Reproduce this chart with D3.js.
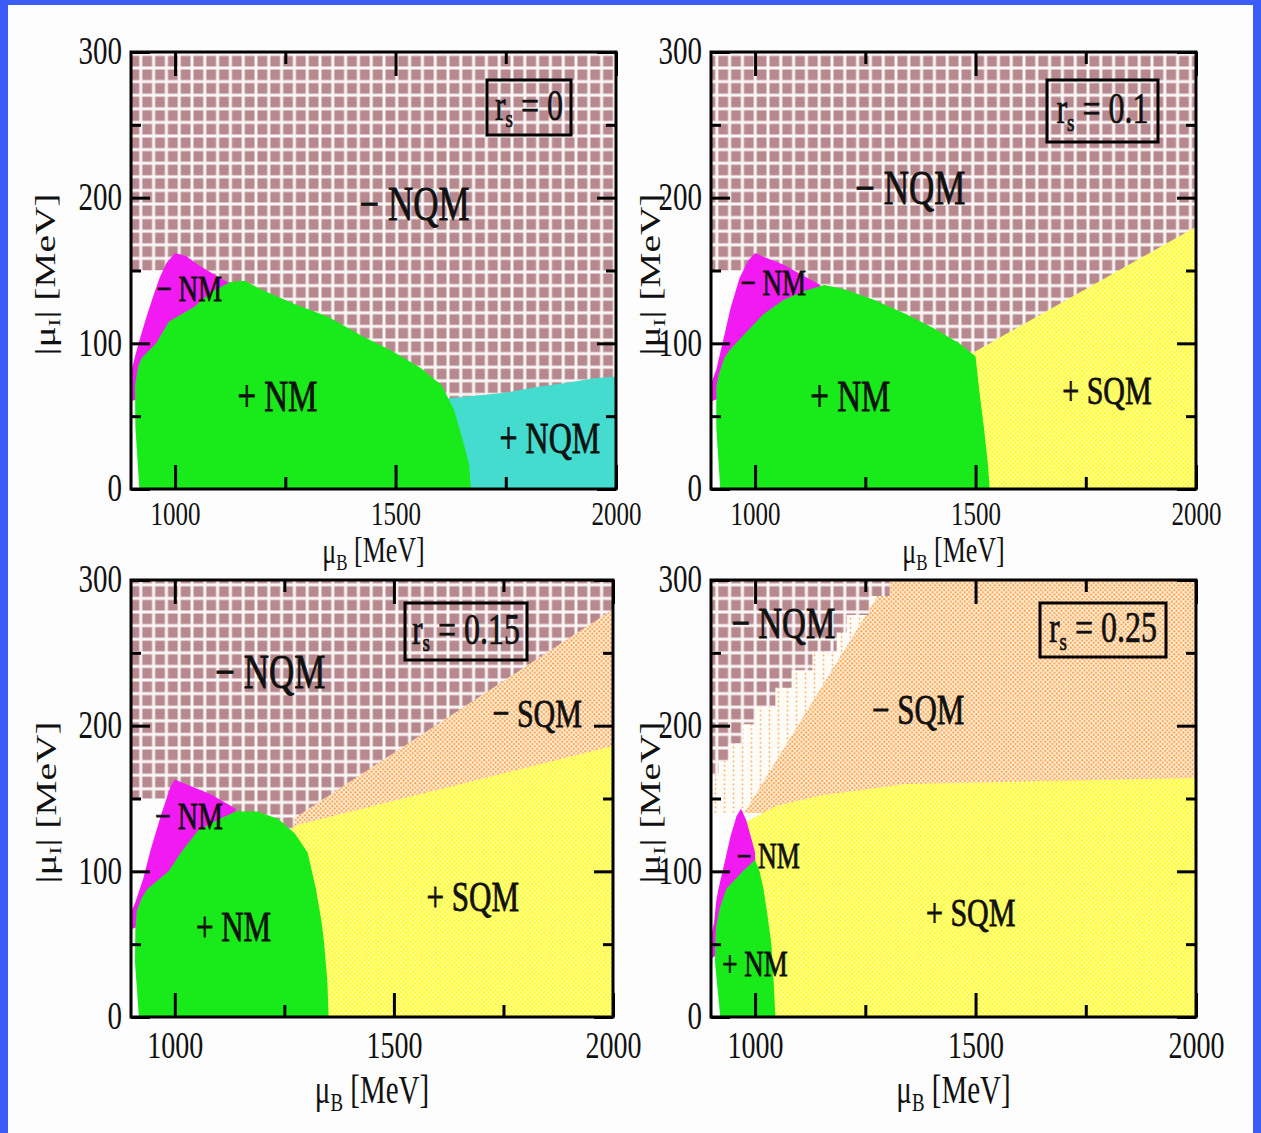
<!DOCTYPE html>
<html>
<head>
<meta charset="utf-8">
<script src="https://cdn.jsdelivr.net/npm/d3@7"></script>
<style>
body { margin: 0; background: #fdfdfd; }
svg { display: block; }
text { font-family: "Liberation Serif", "Times New Roman", serif; fill: #111; }
</style>
</head>
<body>
<svg id="chart" width="1261" height="1133"></svg>
<script>
// axis values
const xMajor = [1000, 1500, 2000];
const xMinor = [1250, 1750];
const yMajor = [0, 100, 200, 300];
const yMinor = [50, 150, 250];
const rsValues = ['0', '0.1', '0.15', '0.25'];

// phase boundaries as [muB, |muI|] in MeV
// r_s = 0
const rs0_nqmMinus = [[900, 300], [2000, 300], [2000, 0], [1200, 0], [1200, 120], [990, 150], [900, 150]];
const rs0_nqmPlus = [[1600, 0], [1600, 62], [1614, 62], [1680, 64], [1748, 66], [1820, 70], [1890, 73], [1950, 76], [2000, 77], [2000, 0]];
const rs0_nmMinus = [[900, 80], [910, 92], [920, 103], [935, 118], [950, 132], [965, 145], [980, 155], [1000, 162],
    [1025, 160], [1052, 154], [1085, 148], [1119, 142], [1152, 140], [1152, 90], [900, 60]];
const rs0_nmPlus = [[919, 0], [910, 42], [909, 71], [916, 84], [924, 90], [957, 100], [986, 115], [1043, 125], [1081, 135],
    [1124, 142], [1157, 143], [1195, 137], [1271, 127], [1348, 118], [1424, 105], [1490, 95], [1557, 83], [1605, 71],
    [1633, 54], [1652, 34], [1667, 17], [1671, 0]];

// r_s = 0.1
const rs1_nqmMinus = [[900, 300], [2000, 300], [2000, 0], [1200, 0], [1200, 120], [990, 150], [900, 150]];
const rs1_sqmPlus = [[1480, 0], [1480, 90], [1491, 93], [2000, 180], [2000, 0]];
const rs1_nmMinus = [[900, 72], [912, 82], [926, 100], [945, 125], [965, 145], [985, 157], [1000, 162], [1030, 158],
    [1065, 154], [1100, 148], [1148, 140], [1148, 90], [900, 60]];
const rs1_nmPlus = [[921, 0], [912, 42], [912, 70], [917, 78], [930, 90], [944, 96], [972, 105], [1019, 120], [1065, 130],
    [1111, 136], [1157, 140], [1204, 137], [1269, 130], [1343, 120], [1407, 110], [1463, 100], [1500, 91], [1509, 66],
    [1519, 42], [1528, 17], [1532, 0]];

// r_s = 0.15
const rs2_nqmMinus = [[900, 300], [2000, 300], [2000, 0], [1260, 0], [1260, 120], [990, 150], [900, 150]];
const rs2_sqmMinus = [[1260, 110], [1275, 137], [2000, 280], [2000, 110]];
const rs2_sqmPlus = [[1260, 0], [1260, 128], [1282, 132], [2000, 186], [2000, 0]];
const rs2_nmMinus = [[900, 72], [909, 78], [928, 95], [945, 115], [970, 140], [990, 158], [1000, 163], [1040, 158],
    [1082, 153], [1139, 143], [1139, 90], [900, 60]];
const rs2_nmPlus = [[918, 0], [909, 38], [910, 60], [913, 73], [925, 82], [938, 88], [986, 100], [1014, 113], [1053, 128],
    [1101, 136], [1139, 141], [1188, 141], [1236, 136], [1274, 126], [1303, 113], [1322, 88], [1335, 65], [1341, 50],
    [1348, 25], [1351, 0]];

// r_s = 0.25
const rs3_sqmFringe = [[905, 140], [905, 300], [1320, 300], [975, 140]];
const rs3_sqmMinus = [[975, 140], [1300, 300], [2000, 300], [2000, 140]];
const rs3_sqmPlus = [[940, 0], [940, 120], [972, 133], [1050, 145], [1150, 152], [1343, 160], [2000, 164], [2000, 0]];
const rs3_nqmMinus = [[900, 300], [1335, 300], [1305, 289], [1259, 276], [1208, 264], [1185, 251], [1130, 238],
    [1083, 226], [1046, 213], [1000, 201], [972, 188], [940, 176], [917, 166], [900, 166]];
const rs3_nmMinus = [[900, 55], [907, 65], [912, 80], [917, 88], [930, 105], [945, 125], [958, 138], [968, 143],
    [980, 135], [991, 123], [1000, 113], [1000, 60], [900, 40]];
const rs3_nmPlus = [[921, 0], [909, 38], [910, 55], [912, 63], [920, 75], [935, 88], [972, 100], [1000, 108], [1010, 100],
    [1019, 88], [1028, 70], [1037, 50], [1042, 25], [1046, 0]];

// region labels: [text, muB, |muI|]
const rs0_labels = [['− NQM', 1543, 196], ['− NM', 1032, 138], ['+ NM', 1232, 64], ['+ NQM', 1850, 35]];
const rs1_labels = [['− NQM', 1352, 207], ['− NM', 1041, 142], ['+ NM', 1216, 64], ['+ SQM', 1798, 68]];
const rs2_labels = [['− NQM', 1218, 237], ['− NM', 1032, 138], ['+ NM', 1134, 62], ['+ SQM', 1680, 83], ['− SQM', 1827, 209]];
const rs3_labels = [['− NQM', 1064, 271], ['− SQM', 1370, 211], ['− NM', 1030, 111], ['+ NM', 1000, 37], ['+ SQM', 1489, 72]];

const SY = 1.36; // the figure is stretched vertically

const svg = d3.select('#chart');
const defs = svg.append('defs');

// blue frame of the slide
svg.append('rect').attr('x', 0).attr('y', 0).attr('width', 1261).attr('height', 5).attr('fill', '#3b5cf8');
svg.append('rect').attr('x', 0).attr('y', 0).attr('width', 8).attr('height', 1133).attr('fill', '#3b5cf8');
svg.append('rect').attr('x', 1253).attr('y', 0).attr('width', 8).attr('height', 1133).attr('fill', '#3b5cf8');

// fill patterns
const pNQM = defs.append('pattern').attr('id', 'pNQM').attr('patternUnits', 'userSpaceOnUse')
    .attr('width', 12.8).attr('height', 13.6);
pNQM.append('rect').attr('width', 12.8).attr('height', 13.6).attr('fill', '#fbf6f6');
pNQM.append('rect').attr('x', 1.5).attr('y', 1.5).attr('width', 9.8).attr('height', 10.6).attr('fill', '#b7898f');

const pSQMp = defs.append('pattern').attr('id', 'pSQMp').attr('patternUnits', 'userSpaceOnUse')
    .attr('width', 4.6).attr('height', 4.6);
pSQMp.append('rect').attr('width', 4.6).attr('height', 4.6).attr('fill', '#ffff22');
pSQMp.append('rect').attr('width', 2.1).attr('height', 2.1).attr('fill', '#fffbc4');
pSQMp.append('rect').attr('x', 2.3).attr('y', 2.3).attr('width', 2.1).attr('height', 2.1).attr('fill', '#fffbc4');

const pSQMm = defs.append('pattern').attr('id', 'pSQMm').attr('patternUnits', 'userSpaceOnUse')
    .attr('width', 4.6).attr('height', 4.6);
pSQMm.append('rect').attr('width', 4.6).attr('height', 4.6).attr('fill', '#fff1e2');
pSQMm.append('circle').attr('cx', 1.15).attr('cy', 1.15).attr('r', 1.1).attr('fill', '#ffa040');
pSQMm.append('circle').attr('cx', 3.45).attr('cy', 3.45).attr('r', 1.1).attr('fill', '#ffa040');

const pFringe = defs.append('pattern').attr('id', 'pFringe').attr('patternUnits', 'userSpaceOnUse')
    .attr('width', 9).attr('height', 4.6);
pFringe.append('rect').attr('width', 9).attr('height', 4.6).attr('fill', '#fffcf8');
pFringe.append('circle').attr('cx', 4.5).attr('cy', 2.3).attr('r', 1).attr('fill', '#ffb060');

const fills = {
    nqmMinus: 'url(#pNQM)',
    nqmPlus: '#44dccf',
    nmMinus: '#f21af2',
    nmPlus: '#19ea19',
    sqmPlus: 'url(#pSQMp)',
    sqmMinus: 'url(#pSQMm)',
    sqmFringe: 'url(#pFringe)'
};

const panels = [
    { x0: 131, x1: 616, y0: 52, y1: 489, rs: rsValues[0], xFont: 25, labDy: 24, titleY: 552, yTitleX: 45,
      box: [356, 28, 84, 55], labels: rs0_labels, labelSizes: [35, 27, 33, 32],
      phases: [[rs0_nqmMinus, 'nqmMinus'], [rs0_nqmPlus, 'nqmPlus'], [rs0_nmMinus, 'nmMinus'], [rs0_nmPlus, 'nmPlus']] },
    { x0: 711, x1: 1196, y0: 52, y1: 489, rs: rsValues[1], xFont: 25, labDy: 24, titleY: 552, yTitleX: 650,
      box: [336, 28, 111, 62], labels: rs1_labels, labelSizes: [35, 27, 33, 30],
      phases: [[rs1_nqmMinus, 'nqmMinus'], [rs1_sqmPlus, 'sqmPlus'], [rs1_nmMinus, 'nmMinus'], [rs1_nmPlus, 'nmPlus']] },
    { x0: 131, x1: 613, y0: 580, y1: 1017, rs: rsValues[2], xFont: 28, labDy: 28, titleY: 1091, yTitleX: 46,
      box: [274, 23, 122, 57], labels: rs2_labels, labelSizes: [35, 28, 31, 31, 30],
      phases: [[rs2_nqmMinus, 'nqmMinus'], [rs2_sqmMinus, 'sqmMinus'], [rs2_sqmPlus, 'sqmPlus'],
               [rs2_nmMinus, 'nmMinus'], [rs2_nmPlus, 'nmPlus']] },
    { x0: 711, x1: 1196, y0: 580, y1: 1017, rs: rsValues[3], xFont: 28, labDy: 28, titleY: 1091, yTitleX: 650,
      box: [329, 23, 126, 54], labels: rs3_labels, labelSizes: [33, 31, 26, 27, 30],
      phases: [[rs3_sqmFringe, 'sqmFringe'], [rs3_sqmMinus, 'sqmMinus'], [rs3_sqmPlus, 'sqmPlus'],
               [rs3_nqmMinus, 'nqmMinus', 'step'], [rs3_nmMinus, 'nmMinus'], [rs3_nmPlus, 'nmPlus']] }
];

function styleAxis(ax) {
    ax.select('.domain').remove();
    ax.selectAll('line').attr('stroke', '#000').attr('stroke-width', 3);
}

function drawPanel(p, i) {
    const x = d3.scaleLinear().domain([900, 2000]).range([p.x0, p.x1]);
    const y = d3.scaleLinear().domain([0, 300]).range([p.y1, p.y0]);
    const g = svg.append('g');

    defs.append('clipPath').attr('id', 'clip' + i)
        .append('rect')
        .attr('x', p.x0).attr('y', p.y0)
        .attr('width', p.x1 - p.x0).attr('height', p.y1 - p.y0);

    const line = d3.line().x(d => x(d[0])).y(d => y(d[1]));
    const stairs = d3.line().x(d => x(d[0])).y(d => y(d[1])).curve(d3.curveStepAfter);
    const area = g.append('g').attr('clip-path', `url(#clip${i})`);
    area.selectAll('path')
        .data(p.phases)
        .enter()
        .append('path')
        .attr('d', d => (d[2] === 'step' ? stairs(d[0]) : line(d[0])) + 'Z')
        .attr('fill', d => fills[d[1]]);

    // ticks on all four sides, pointing inwards
    const bottom = g.append('g').attr('transform', `translate(0,${p.y1})`)
        .call(d3.axisBottom(x).tickValues(xMajor).tickSize(-24).tickPadding(0).tickFormat(d3.format('d')));
    styleAxis(bottom);
    bottom.selectAll('text')
        .attr('y', null)
        .attr('dy', '0.35em')
        .attr('transform', `translate(0,${p.labDy}) scale(1,${SY})`)
        .style('font-size', p.xFont + 'px');
    styleAxis(g.append('g').attr('transform', `translate(0,${p.y1})`)
        .call(d3.axisBottom(x).tickValues(xMinor).tickSize(-12).tickFormat('')));
    styleAxis(g.append('g').attr('transform', `translate(0,${p.y0})`)
        .call(d3.axisTop(x).tickValues(xMajor).tickSize(-24).tickFormat('')));
    styleAxis(g.append('g').attr('transform', `translate(0,${p.y0})`)
        .call(d3.axisTop(x).tickValues(xMinor).tickSize(-12).tickFormat('')));

    const left = g.append('g').attr('transform', `translate(${p.x0},0)`)
        .call(d3.axisLeft(y).tickValues(yMajor).tickSize(-19).tickPadding(9).tickFormat(d3.format('d')));
    styleAxis(left);
    left.selectAll('text')
        .attr('dy', '0.3em')
        .attr('transform', `scale(1,${SY})`)
        .style('font-size', '29px');
    styleAxis(g.append('g').attr('transform', `translate(${p.x0},0)`)
        .call(d3.axisLeft(y).tickValues(yMinor).tickSize(-10).tickFormat('')));
    styleAxis(g.append('g').attr('transform', `translate(${p.x1},0)`)
        .call(d3.axisRight(y).tickValues(yMajor).tickSize(-19).tickFormat('')));
    styleAxis(g.append('g').attr('transform', `translate(${p.x1},0)`)
        .call(d3.axisRight(y).tickValues(yMinor).tickSize(-10).tickFormat('')));

    // frame
    g.append('rect')
        .attr('x', p.x0).attr('y', p.y0)
        .attr('width', p.x1 - p.x0).attr('height', p.y1 - p.y0)
        .attr('fill', 'none').attr('stroke', '#000').attr('stroke-width', 3);

    // region names
    g.selectAll('text.region')
        .data(p.labels)
        .enter()
        .append('text')
        .attr('class', 'region')
        .attr('transform', d => `translate(${x(d[1])},${y(d[2])}) scale(1,${SY})`)
        .attr('dy', '0.35em')
        .attr('text-anchor', 'middle')
        .attr('stroke', '#111')
        .attr('stroke-width', 0.6)
        .style('font-size', (d, j) => p.labelSizes[j] + 'px')
        .text(d => d[0]);

    // r_s box
    const [bx, by, bw, bh] = p.box;
    g.append('rect')
        .attr('x', p.x0 + bx).attr('y', p.y0 + by)
        .attr('width', bw).attr('height', bh)
        .attr('fill', 'none').attr('stroke', '#000').attr('stroke-width', 3);
    const rsText = g.append('text')
        .attr('transform', `translate(${p.x0 + bx + bw / 2},${p.y0 + by + bh / 2 - 3}) scale(1,${SY})`)
        .attr('dy', '0.35em')
        .attr('text-anchor', 'middle')
        .attr('stroke', '#111')
        .attr('stroke-width', 0.5)
        .style('font-size', '32px');
    rsText.append('tspan').text('r');
    rsText.append('tspan').attr('dy', '0.3em').style('font-size', '19px').text('s');
    rsText.append('tspan').attr('dy', '-0.18em').text(' = ' + p.rs);

    // axis titles
    const xTitle = g.append('text')
        .attr('transform', `translate(${(p.x0 + p.x1) / 2},${p.titleY}) scale(1,${SY})`)
        .attr('dy', '0.3em')
        .attr('text-anchor', 'middle')
        .style('font-size', (p.xFont + 1) + 'px');
    xTitle.append('tspan').text('μ');
    xTitle.append('tspan').attr('dy', '0.3em').style('font-size', '0.65em').text('B');
    xTitle.append('tspan').attr('dy', '-0.2em').text(' [MeV]');

    const yTitle = g.append('text')
        .attr('transform', `translate(${p.yTitleX},${(p.y0 + p.y1) / 2 + 4}) scale(1,${SY}) rotate(-90)`)
        .attr('dy', '0.35em')
        .attr('text-anchor', 'middle')
        .style('font-size', '29px');
    yTitle.append('tspan').text('|μ');
    yTitle.append('tspan').attr('dy', '0.3em').style('font-size', '0.6em').text('I');
    yTitle.append('tspan').attr('dy', '-0.18em').text('|  [MeV]');
}

panels.forEach((p, i) => drawPanel(p, i));
</script>
</body>
</html>
